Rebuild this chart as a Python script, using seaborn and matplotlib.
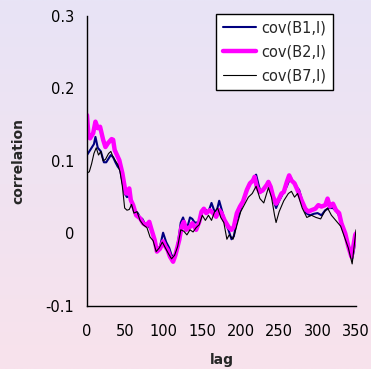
import numpy as np
import pandas as pd
import matplotlib
matplotlib.use("Agg")
import matplotlib.pyplot as plt
import seaborn as sns

# ---- data ----
lag_b1 = [0, 3, 6, 9, 11, 14, 18, 22, 25, 28, 31, 34, 37, 40, 43, 46, 49, 52, 55, 58, 61, 64, 66, 69, 72, 76,
          80, 84, 88, 91, 95, 99, 103, 107, 110, 113, 116, 119, 122, 125, 128, 131, 134, 137, 140, 145, 149,
          152, 155, 158, 162, 166, 169, 172, 176, 180, 184, 188, 191, 195, 199, 203, 208, 212, 216, 220, 223,
          225, 229, 233, 236, 240, 243, 246, 250, 255, 260, 265, 268, 272, 276, 280, 285, 290, 295, 300, 305,
          310, 315, 320, 325, 330, 335, 340, 345, 347, 350]
cov_b1 = [0.108, 0.113, 0.118, 0.123, 0.133, 0.118, 0.113, 0.098, 0.098, 0.103, 0.108, 0.105, 0.098, 0.092,
          0.088, 0.072, 0.055, 0.050, 0.052, 0.040, 0.032, 0.030, 0.028, 0.022, 0.020, 0.012, 0.010, 0.004,
          -0.010, -0.022, -0.018, 0.001, -0.012, -0.020, -0.030, -0.032, -0.025, -0.008, 0.015, 0.022, 0.012,
          0.010, 0.022, 0.020, 0.015, 0.015, 0.028, 0.035, 0.032, 0.030, 0.042, 0.030, 0.032, 0.045, 0.030,
          0.015, 0.005, -0.008, -0.004, 0.018, 0.030, 0.045, 0.058, 0.068, 0.075, 0.081, 0.068, 0.060, 0.058,
          0.066, 0.068, 0.058, 0.045, 0.035, 0.045, 0.055, 0.065, 0.078, 0.070, 0.065, 0.060, 0.045, 0.028,
          0.025, 0.027, 0.028, 0.025, 0.032, 0.035, 0.035, 0.030, 0.020, 0.002, -0.015, -0.035, -0.025, -0.002]

lag_b2 = [0, 2, 4, 8, 11, 14, 17, 21, 24, 27, 32, 34, 36, 39, 42, 46, 49, 51, 55, 57, 60, 64, 69, 73, 77, 81,
          84, 88, 91, 95, 99, 102, 105, 108, 112, 115, 120, 123, 126, 129, 134, 137, 142, 146, 149, 152, 155,
          160, 164, 168, 172, 175, 179, 184, 188, 191, 195, 199, 203, 208, 212, 216, 218, 221, 225, 229, 234,
          236, 239, 242, 246, 249, 253, 256, 260, 263, 266, 270, 275, 279, 284, 288, 292, 297, 301, 305, 310,
          313, 316, 320, 324, 328, 331, 336, 340, 344, 346, 349, 350]
cov_b2 = [0.163, 0.133, 0.131, 0.138, 0.154, 0.145, 0.147, 0.129, 0.119, 0.124, 0.130, 0.129, 0.115, 0.108,
          0.101, 0.083, 0.064, 0.055, 0.062, 0.046, 0.039, 0.025, 0.021, 0.014, 0.011, 0.016, 0.005, -0.009,
          -0.025, -0.021, -0.011, -0.018, -0.023, -0.032, -0.039, -0.030, -0.009, 0.009, 0.016, 0.005, 0.009,
          0.014, 0.005, 0.016, 0.030, 0.034, 0.028, 0.032, 0.028, 0.023, 0.032, 0.028, 0.018, 0.009, 0.005,
          0.009, 0.028, 0.037, 0.044, 0.060, 0.069, 0.073, 0.078, 0.064, 0.057, 0.060, 0.067, 0.071, 0.064,
          0.051, 0.041, 0.046, 0.055, 0.057, 0.071, 0.080, 0.073, 0.069, 0.057, 0.046, 0.034, 0.030, 0.032,
          0.034, 0.039, 0.037, 0.039, 0.048, 0.037, 0.041, 0.032, 0.028, 0.014, 0.000, -0.018, -0.032, -0.021,
          -0.002, 0.000]

lag_b7 = [0, 3, 6, 9, 12, 15, 18, 21, 24, 28, 31, 34, 37, 40, 43, 46, 49, 52, 55, 58, 61, 65, 69, 73, 78, 82,
          86, 90, 94, 98, 102, 106, 110, 114, 118, 122, 126, 130, 134, 138, 142, 146, 150, 154, 158, 162, 166,
          170, 174, 178, 182, 185, 190, 196, 200, 205, 210, 215, 220, 225, 230, 236, 240, 244, 246, 250, 256,
          262, 266, 270, 274, 280, 286, 292, 298, 304, 309, 313, 318, 322, 326, 330, 335, 340, 345, 350]
cov_b7 = [0.083, 0.085, 0.096, 0.110, 0.118, 0.108, 0.113, 0.100, 0.102, 0.110, 0.113, 0.105, 0.100, 0.095,
          0.085, 0.065, 0.035, 0.032, 0.033, 0.040, 0.028, 0.030, 0.018, 0.012, 0.008, -0.005, -0.010, -0.025,
          -0.020, -0.012, -0.020, -0.028, -0.035, -0.030, -0.018, 0.005, 0.003, -0.002, 0.005, 0.002, 0.008,
          0.012, 0.025, 0.018, 0.025, 0.018, 0.030, 0.035, 0.022, 0.015, -0.008, -0.002, -0.008, 0.015, 0.030,
          0.040, 0.050, 0.055, 0.065, 0.048, 0.042, 0.063, 0.050, 0.025, 0.015, 0.030, 0.045, 0.055, 0.058,
          0.050, 0.055, 0.035, 0.022, 0.025, 0.022, 0.020, 0.030, 0.035, 0.025, 0.020, 0.015, 0.010, -0.005,
          -0.020, -0.042, 0.005]

series_names = ["cov(B1,I)", "cov(B2,I)", "cov(B7,I)"]
x_ticks = [0, 50, 100, 150, 200, 250, 300, 350]
y_ticks = [-0.1, 0, 0.1, 0.2, 0.3]
y_tick_labels = ["-0.1", "0", "0.1", "0.2", "0.3"]

df = pd.concat([
    pd.DataFrame({"lag": lag_b1, "value": cov_b1, "series": series_names[0]}),
    pd.DataFrame({"lag": lag_b2, "value": cov_b2, "series": series_names[1]}),
    pd.DataFrame({"lag": lag_b7, "value": cov_b7, "series": series_names[2]}),
], ignore_index=True)

sns.set_style("white")
plt.rcParams["font.family"] = ["DejaVu Sans"]

fig = plt.figure(figsize=(3.71, 3.69), dpi=100)

# gradient background
bg = fig.add_axes([0, 0, 1, 1], zorder=-10)
top = np.array([232, 228, 246]) / 255.0
bot = np.array([248, 226, 236]) / 255.0
t = np.linspace(0, 1, 256)[:, None]
grad = (top[None, :] * (1 - t) + bot[None, :] * t)[:, None, :]
bg.imshow(grad, aspect="auto", extent=[0, 1, 0, 1], origin="upper")
bg.axis("off")

ax = fig.add_axes([0.2345, 0.1707, 0.7251, 0.7868])
ax.patch.set_alpha(0)

palette = {series_names[0]: "#000080", series_names[1]: "#FF00FF", series_names[2]: "#000000"}
widths = {series_names[0]: 1.5, series_names[1]: 3.2, series_names[2]: 0.8}
for name in series_names:
    sub = df[df["series"] == name]
    sns.lineplot(data=sub, x="lag", y="value", ax=ax, color=palette[name],
                 linewidth=widths[name], label=name, estimator=None, sort=False)

ax.set_xlim(0, 350)
ax.set_ylim(-0.1, 0.3)
ax.set_xticks(x_ticks)
ax.set_yticks(y_ticks)
ax.set_yticklabels(y_tick_labels)
for s in ["top", "right"]:
    ax.spines[s].set_visible(False)
for s in ["left", "bottom"]:
    ax.spines[s].set_color("black")
    ax.spines[s].set_linewidth(1.0)
ax.tick_params(axis="both", direction="out", length=3.6, width=1, color="black",
               labelsize=10.5, labelcolor="black")
ax.tick_params(axis="x", pad=9)
ax.tick_params(axis="y", pad=5.5)
ax.set_xlabel("lag", fontsize=10, fontweight="bold")
ax.set_ylabel("correlation", fontsize=10, fontweight="bold")
ax.xaxis.set_label_coords(0.5, -0.1605)
ax.yaxis.set_label_coords(-0.230, 0.5)

leg = ax.legend(loc="upper right", bbox_to_anchor=(0.9145, 1.006), frameon=True, fancybox=False,
                edgecolor="black", framealpha=1, fontsize=10.5, handlelength=2.26,
                borderpad=0.45, labelspacing=0.62, handletextpad=0.4, borderaxespad=0)
leg.get_frame().set_linewidth(1.0)

fig.savefig("out.png", dpi=100)
